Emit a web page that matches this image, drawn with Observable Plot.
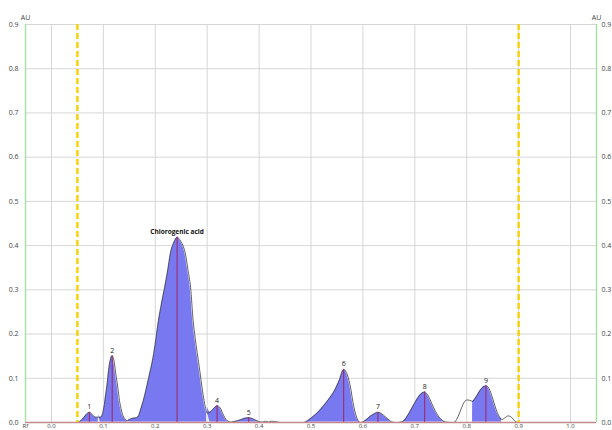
<!DOCTYPE html>
<html><head><meta charset="utf-8">
<script src="https://cdn.jsdelivr.net/npm/d3@7"></script>
<script src="https://cdn.jsdelivr.net/npm/@observablehq/plot@0.6"></script>
<style>body{margin:0;background:#fff;}</style>
</head><body><div id="chart"></div>
<script>
// Densitogram trace: Rf position and absorbance (AU)
const traceRf = [0.050,0.054,0.060,0.066,0.073,0.078,0.083,0.087,0.091,0.094,0.098,0.101,0.104,0.107,0.110,0.114,0.117,0.120,0.124,0.128,0.131,0.134,0.137,0.141,0.144,0.148,0.152,0.158,0.164,0.168,0.171,0.177,0.187,0.197,0.206,0.212,0.218,0.224,0.229,0.236,0.242,0.249,0.254,0.258,0.263,0.268,0.273,0.277,0.281,0.286,0.290,0.294,0.298,0.300,0.306,0.312,0.319,0.325,0.331,0.336,0.340,0.345,0.350,0.358,0.366,0.373,0.380,0.387,0.394,0.400,0.406,0.412,0.418,0.424,0.430,0.436,0.442,0.486,0.500,0.512,0.524,0.536,0.546,0.554,0.563,0.570,0.576,0.581,0.587,0.595,0.601,0.608,0.615,0.622,0.629,0.636,0.643,0.650,0.656,0.666,0.676,0.684,0.692,0.700,0.708,0.714,0.719,0.726,0.733,0.740,0.747,0.753,0.759,0.775,0.782,0.789,0.795,0.801,0.806,0.811,0.818,0.825,0.831,0.837,0.843,0.849,0.855,0.861,0.868,0.874,0.880,0.886,0.892,0.897];
const traceAu = [0.000,0.002,0.008,0.017,0.023,0.019,0.013,0.012,0.012,0.012,0.018,0.035,0.060,0.085,0.118,0.145,0.151,0.142,0.110,0.078,0.050,0.032,0.018,0.009,0.005,0.004,0.008,0.010,0.011,0.016,0.027,0.050,0.100,0.156,0.230,0.270,0.306,0.345,0.382,0.408,0.419,0.410,0.398,0.382,0.345,0.306,0.230,0.190,0.156,0.115,0.080,0.050,0.027,0.021,0.024,0.031,0.038,0.033,0.018,0.007,0.003,0.001,0.002,0.004,0.007,0.010,0.011,0.009,0.005,0.002,0.001,0.003,0.001,0.003,0.002,0.001,0.000,0.000,0.010,0.022,0.038,0.056,0.074,0.095,0.120,0.108,0.080,0.045,0.015,0.000,0.002,0.008,0.015,0.020,0.023,0.020,0.013,0.006,0.001,0.000,0.002,0.012,0.028,0.045,0.060,0.067,0.069,0.060,0.042,0.025,0.012,0.005,0.001,0.000,0.010,0.030,0.046,0.051,0.050,0.048,0.058,0.072,0.080,0.083,0.077,0.058,0.035,0.017,0.007,0.011,0.015,0.012,0.004,0.000];

// Integrated peaks
const peakLabels = ["1","2","Chlorogenic acid","4","5","6","7","8","9"];
const peakRf = [0.073,0.117,0.242,0.319,0.380,0.563,0.629,0.719,0.837];
const peakAu = [0.023,0.151,0.419,0.038,0.011,0.120,0.023,0.069,0.083];
const peakStart = [0.054,0.091,0.148,0.300,0.350,0.486,0.601,0.676,0.811];
const peakEnd = [0.091,0.148,0.300,0.340,0.400,0.595,0.656,0.759,0.868];

// Application front/start markers (dashed yellow)
const frontRf = [0.05, 0.9];

// Axes
const rfDomain = [-0.05, 1.05];
const xTicks = [0.0,0.1,0.2,0.3,0.4,0.5,0.6,0.7,0.8,0.9,1.0];
const yTicks = [0.0,0.1,0.2,0.3,0.4,0.5,0.6,0.7,0.8,0.9];

const trace = traceRf.map((rf, i) => ({rf, au: traceAu[i]}));
const peaks = peakLabels.map((label, i) => ({label, rf: peakRf[i], au: peakAu[i]}));
const segData = peakLabels.flatMap((label, i) =>
  trace.filter(d => d.rf >= peakStart[i] - 1e-9 && d.rf <= peakEnd[i] + 1e-9).map(d => ({...d, seg: i})));

const fmt = d3.format(".1f");
const chart = Plot.plot({
  width: 612, height: 430,
  marginLeft: 25, marginRight: 16, marginTop: 24, marginBottom: 8,
  x: {domain: rfDomain},
  y: {domain: [0, 0.9]},
  style: {fontFamily: "'Open Sans', sans-serif", fontSize: "7px", background: "white", color: "#333", overflow: "visible"},
  marks: [
    Plot.gridX(xTicks, {stroke: "#d6d6d6", strokeOpacity: 1}),
    Plot.gridY(yTicks, {stroke: "#d6d6d6", strokeOpacity: 1}),
    Plot.areaY(segData, {x: "rf", y: "au", z: "seg", fill: "#7878f0", stroke: "white", strokeWidth: 0.8, curve: "monotone-x"}),
    Plot.line(trace, {x: "rf", y: "au", stroke: "#3a3a3a", strokeWidth: 0.8, curve: "monotone-x"}),
    Plot.ruleX(peaks, {x: "rf", y1: 0, y2: "au", stroke: "#a0255e", strokeWidth: 1}),
    Plot.ruleY([0], {stroke: "#c4898c", strokeWidth: 1.5}),
    Plot.ruleX(rfDomain, {stroke: "#a8e2a8", strokeWidth: 1.5}),
    Plot.ruleX(frontRf, {stroke: "#f3d20e", strokeWidth: 2.5, strokeDasharray: "6,3"}),
    Plot.text(peaks.filter(d => d.label.length < 3), {x: "rf", y: "au", text: "label", dy: -3, lineAnchor: "bottom", fill: "#222"}),
    Plot.text(peaks.filter(d => d.label.length >= 3), {x: "rf", y: "au", text: "label", dy: -3, lineAnchor: "bottom", fill: "#111", fontWeight: "bold", fontSize: 6.5}),
    Plot.axisY(yTicks, {anchor: "left", tickSize: 0, tickPadding: 7, tickFormat: fmt, label: null, fill: "#444"}),
    Plot.axisY(yTicks, {anchor: "right", tickSize: 0, tickPadding: 5, tickFormat: fmt, label: null, fill: "#444"}),
    Plot.axisX(xTicks, {anchor: "bottom", tickSize: 0, tickPadding: 1, tickFormat: fmt, label: null, fill: "#444", fontSize: 6}),
    Plot.text(["AU"], {frameAnchor: "top-left", dy: -9, text: d => d, textAnchor: "middle", fill: "#444"}),
    Plot.text(["AU"], {frameAnchor: "top-right", dy: -9, text: d => d, textAnchor: "middle", fill: "#444"}),
    Plot.text(["Rf"], {frameAnchor: "bottom-left", dx: -3, dy: 1, text: d => d, textAnchor: "start", lineAnchor: "top", fill: "#444", fontSize: 6})
  ]
});
document.getElementById("chart").appendChild(chart);
</script>
</body></html>
